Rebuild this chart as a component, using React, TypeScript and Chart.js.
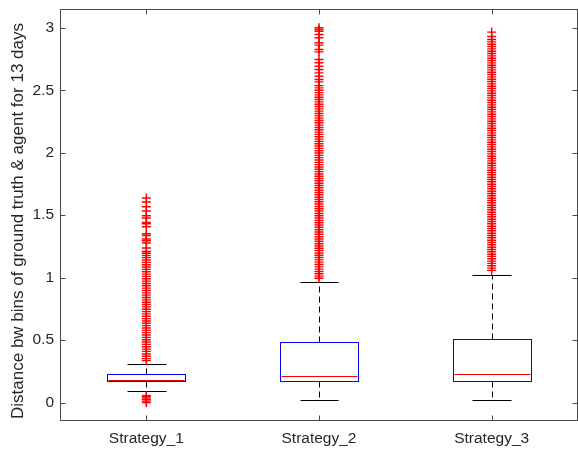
import React, { useEffect, useRef } from 'react';
import { Chart, registerables } from 'chart.js';

Chart.register(...registerables);

const categories = ['Strategy_1', 'Strategy_2', 'Strategy_3'];
const q1 = [0.171, 0.174, 0.174];
const medians = [0.182, 0.212, 0.23];
const q3 = [0.228, 0.489, 0.51];
const whiskerLow = [0.091, 0.024, 0.024];
const whiskerHigh = [0.308, 0.965, 1.023];

const outliers1 = [
  0.0, 0.012, 0.024, 0.036, 0.047, 0.056,
  0.336, 0.352, 0.371, 0.389, 0.41, 0.428, 0.447, 0.466, 0.485, 0.503, 0.522, 0.541,
  0.56, 0.578, 0.597, 0.616, 0.635, 0.653, 0.672, 0.691, 0.71, 0.728, 0.747, 0.766,
  0.785, 0.803, 0.822, 0.841, 0.86, 0.878, 0.897, 0.916, 0.935, 0.953, 0.972, 0.991,
  1.01, 1.028, 1.047, 1.066, 1.085, 1.103, 1.122, 1.141, 1.16, 1.178, 1.196, 1.21,
  1.237, 1.277, 1.296, 1.309, 1.338, 1.352, 1.408, 1.432, 1.442, 1.477, 1.496,
  1.534, 1.568, 1.606, 1.638,
];

const outliers2 = [
  0.995, 1.012, 1.031, 1.049, 1.068, 1.086, 1.105, 1.124, 1.142, 1.161, 1.179, 1.198,
  1.217, 1.235, 1.254, 1.272, 1.291, 1.31, 1.328, 1.347, 1.365, 1.384, 1.403, 1.421,
  1.44, 1.458, 1.477, 1.496, 1.514, 1.533, 1.551, 1.57, 1.589, 1.607, 1.626, 1.644,
  1.663, 1.682, 1.7, 1.719, 1.737, 1.756, 1.775, 1.793, 1.812, 1.83, 1.849, 1.868,
  1.886, 1.905, 1.923, 1.942, 1.961, 1.979, 1.998, 2.016, 2.035, 2.054, 2.072, 2.091,
  2.109, 2.128, 2.147, 2.165, 2.184, 2.202, 2.221, 2.24, 2.258, 2.277, 2.295, 2.314,
  2.333, 2.351, 2.37, 2.388, 2.407, 2.426, 2.444, 2.463, 2.481, 2.5, 2.519, 2.537,
  2.567, 2.586, 2.612, 2.639, 2.666, 2.692, 2.72, 2.746, 2.807, 2.826, 2.861, 2.88,
  2.92, 2.946, 2.972, 2.986, 3.0,
];

const outliers3 = [
  1.058, 1.076, 1.095, 1.114, 1.132, 1.151, 1.17, 1.188, 1.207, 1.226, 1.244, 1.263,
  1.282, 1.3, 1.319, 1.338, 1.356, 1.375, 1.394, 1.412, 1.431, 1.45, 1.468, 1.487,
  1.506, 1.524, 1.543, 1.562, 1.58, 1.599, 1.618, 1.636, 1.655, 1.674, 1.692, 1.711,
  1.73, 1.748, 1.767, 1.786, 1.804, 1.823, 1.842, 1.86, 1.879, 1.898, 1.916, 1.935,
  1.954, 1.972, 1.991, 2.01, 2.028, 2.047, 2.066, 2.084, 2.103, 2.122, 2.14, 2.159,
  2.178, 2.196, 2.215, 2.234, 2.252, 2.271, 2.29, 2.308, 2.327, 2.346, 2.364, 2.383,
  2.402, 2.42, 2.439, 2.458, 2.476, 2.495, 2.514, 2.532, 2.551, 2.57, 2.588, 2.607,
  2.626, 2.644, 2.663, 2.682, 2.7, 2.719, 2.738, 2.756, 2.775, 2.794, 2.812, 2.831,
  2.85, 2.868, 2.887, 2.906, 2.93, 2.965,
];

const yTicks = [0, 0.5, 1, 1.5, 2, 2.5, 3];
const yLabel = 'Distance bw bins of ground truth & agent for 13 days';

const FONT = "'Liberation Sans', Arial, Helvetica, sans-serif";
const TEXT = '#262626';
const BOX_HALF = 0.225;
const CAP_HALF = 0.1125;

const snap = (v: number) => Math.round(v) + 0.5;

const boxPlugin = {
  id: 'boxplot',
  beforeDatasetsDraw(chart: any) {
    const { ctx } = chart;
    const xs = chart.scales.x;
    const ys = chart.scales.y;
    ctx.save();
    ctx.lineWidth = 1;
    for (let i = 0; i < categories.length; i++) {
      const cx = snap(xs.getPixelForValue(i + 1));
      const bl = snap(xs.getPixelForValue(i + 1 - BOX_HALF));
      const br = snap(xs.getPixelForValue(i + 1 + BOX_HALF));
      const cl = snap(xs.getPixelForValue(i + 1 - CAP_HALF));
      const cr = snap(xs.getPixelForValue(i + 1 + CAP_HALF));
      const yq1 = snap(ys.getPixelForValue(q1[i]));
      const yq3 = snap(ys.getPixelForValue(q3[i]));
      const ym = snap(ys.getPixelForValue(medians[i]));
      const ylo = snap(ys.getPixelForValue(whiskerLow[i]));
      const yhi = snap(ys.getPixelForValue(whiskerHigh[i]));

      ctx.strokeStyle = '#000000';
      ctx.setLineDash([6, 4]);
      ctx.beginPath();
      ctx.moveTo(cx, yq3);
      ctx.lineTo(cx, yhi);
      ctx.moveTo(cx, yq1);
      ctx.lineTo(cx, ylo);
      ctx.stroke();
      ctx.setLineDash([]);
      ctx.beginPath();
      ctx.moveTo(cl, yhi);
      ctx.lineTo(cr, yhi);
      ctx.moveTo(cl, ylo);
      ctx.lineTo(cr, ylo);
      ctx.stroke();
      ctx.strokeStyle = '#0000FF';
      ctx.strokeRect(bl, yq3, br - bl, yq1 - yq3);
      ctx.strokeStyle = '#FF0000';
      ctx.beginPath();
      ctx.moveTo(bl + 1, ym);
      ctx.lineTo(br - 1, ym);
      ctx.stroke();
    }
    ctx.restore();
  },
  afterDraw(chart: any) {
    const { ctx, chartArea } = chart;
    const xs = chart.scales.x;
    const ys = chart.scales.y;
    const l = snap(chartArea.left);
    const r = Math.round(chartArea.right) - 0.5;
    const t = snap(chartArea.top);
    const b = Math.round(chartArea.bottom) - 0.5;
    const tl = 5;
    ctx.save();
    ctx.strokeStyle = '#4a4a4a';
    ctx.lineWidth = 1;
    ctx.strokeRect(l, t, r - l, b - t);
    ctx.beginPath();
    for (const v of yTicks) {
      const y = snap(ys.getPixelForValue(v));
      ctx.moveTo(l, y);
      ctx.lineTo(l + tl, y);
      ctx.moveTo(r, y);
      ctx.lineTo(r - tl, y);
    }
    for (let i = 0; i < categories.length; i++) {
      const x = snap(xs.getPixelForValue(i + 1));
      ctx.moveTo(x, b);
      ctx.lineTo(x, b - tl);
      ctx.moveTo(x, t);
      ctx.lineTo(x, t + tl);
    }
    ctx.stroke();

    // y-axis title
    ctx.translate(18.2, (chartArea.top + chartArea.bottom) / 2 + 6);
    ctx.rotate(-Math.PI / 2);
    ctx.fillStyle = TEXT;
    ctx.font = `17px ${FONT}`;
    ctx.textAlign = 'center';
    ctx.textBaseline = 'middle';
    ctx.fillText(yLabel, 0, 0);
    ctx.restore();
  },
};

const outlierSet = (vals: number[], xPos: number) => ({
  type: 'scatter' as const,
  data: vals.map((v) => ({ x: xPos, y: v })),
  pointStyle: 'cross' as const,
  radius: 4.5,
  hoverRadius: 4.5,
  borderColor: '#FF0000',
  backgroundColor: '#FF0000',
  borderWidth: 1.4,
  showLine: false,
});

const zeroPad = (s: any) => {
  s.paddingTop = 0;
  s.paddingBottom = 0;
  s.paddingLeft = 0;
  s.paddingRight = 0;
};

export default function App() {
  const ref = useRef<HTMLCanvasElement | null>(null);
  useEffect(() => {
    if (!ref.current) return;
    const chart = new Chart(ref.current, {
      type: 'scatter',
      data: {
        datasets: [outlierSet(outliers1, 1), outlierSet(outliers2, 2), outlierSet(outliers3, 3)],
      },
      options: {
        animation: false,
        responsive: false,
        devicePixelRatio: 1,
        layout: { autoPadding: false, padding: { top: 9, right: 0, left: 0, bottom: 0 } },
        plugins: { legend: { display: false }, tooltip: { enabled: false } },
        scales: {
          x: {
            type: 'linear',
            min: 0.5,
            max: 3.5,
            grid: { display: false, drawTicks: false },
            border: { display: false },
            afterBuildTicks: (s: any) => {
              s.ticks = categories.map((_, i) => ({ value: i + 1 }));
            },
            afterFit: (s: any) => {
              s.height = 30;
              zeroPad(s);
            },
            ticks: {
              autoSkip: false,
              maxRotation: 0,
              padding: 8,
              color: TEXT,
              font: { family: FONT, size: 15.5 },
              callback: (v: any) => categories[Math.round(Number(v)) - 1] ?? '',
            },
          },
          y: {
            type: 'linear',
            min: -0.147,
            max: 3.15,
            grid: { display: false, drawTicks: false },
            border: { display: false },
            afterBuildTicks: (s: any) => {
              s.ticks = yTicks.map((v) => ({ value: v }));
            },
            afterFit: (s: any) => {
              s.width = 60;
              zeroPad(s);
            },
            ticks: {
              padding: 6,
              color: TEXT,
              font: { family: FONT, size: 15.5 },
              callback: (v: any) => String(v),
            },
            title: { display: false },
          },
        },
      },
      plugins: [boxPlugin],
    });
    return () => chart.destroy();
  }, []);
  return (
    <div style={{ position: 'absolute', left: 0, top: 0, width: 578, height: 451, background: '#fff' }}>
      <canvas ref={ref} width={578} height={451} />
    </div>
  );
}
